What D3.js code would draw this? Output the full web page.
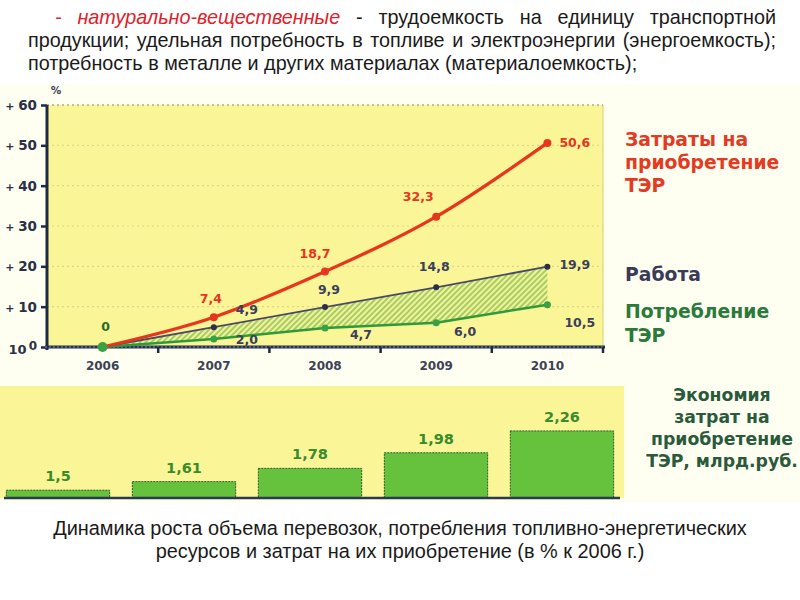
<!DOCTYPE html>
<html><head><meta charset="utf-8">
<script src="https://cdn.jsdelivr.net/npm/d3@7"></script>
<style>body{margin:0;background:#fff} svg{display:block}</style>
</head><body><svg id="c" width="800" height="600"></svg>
<script>
// ---- data ----
const years = ["2006", "2007", "2008", "2009", "2010"];
const costs = [0, 7.4, 18.7, 32.3, 50.6];          // Затраты на приобретение ТЭР, %
const work = [0, 4.9, 9.9, 14.8, 19.9];            // Работа, %
const consumption = [0, 2.0, 4.7, 6.0, 10.5];      // Потребление ТЭР, %
const savings = [1.5, 1.61, 1.78, 1.98, 2.26];     // Экономия, млрд.руб.
const yTicks = [0, 10, 20, 30, 40, 50, 60];
const costLabels = ["", "7,4", "18,7", "32,3", "50,6"];
const workLabels = ["", "4,9", "9,9", "14,8", "19,9"];
const consLabels = ["0", "2,0", "4,7", "6,0", "10,5"];
const savingsLabels = ["1,5", "1,61", "1,78", "1,98", "2,26"];

// label offsets (layout only)
const costOff = [[0,0],[-3,-14],[-10,-14],[-18,-16],[12,4]];
const workOff = [[0,0],[33,-13],[4,-13],[-2,-16],[12,2]];
const consOff = [[3,-16],[33,5],[36,11],[29,13],[17,22]];

const svg = d3.select("#c");
const F = "'DejaVu Sans', Verdana, sans-serif";
const T = "'Liberation Sans', Arial, sans-serif";

svg.append("rect").attr("width",800).attr("height",600).attr("fill","#ffffff");
svg.append("rect").attr("x",0).attr("y",84).attr("width",800).attr("height",419).attr("fill","#fffff1");

// ---- top text (justified) ----
function justifyLine(segs, x0, x1, y, justify) {
  const g = svg.append("g");
  const nodes = segs.map(s => g.append("text").attr("y", y).attr("font-family", T).attr("font-size", 19.8)
      .attr("fill", s.red ? "#e0202a" : "#1a1a1a").attr("font-style", s.red ? "italic" : "normal").text(s.t));
  const widths = nodes.map(n => n.node().getComputedTextLength());
  const sum = d3.sum(widths);
  const space = 5.5;
  const gap = justify ? (x1 - x0 - sum) / (segs.length - 1) : space;
  let x = x0;
  nodes.forEach((n, i) => { n.attr("x", x); x += widths[i] + gap; });
}
const l1 = [{t:"-",red:1},{t:"натурально-вещественные",red:1},{t:"-"}].concat("трудоемкость на единицу транспортной".split(" ").map(t=>({t})));
const l2 = "продукции; удельная потребность в топливе и электроэнергии (энергоемкость);".split(" ").map(t=>({t}));
const l3 = "потребность в металле и других материалах (материалоемкость);".split(" ").map(t=>({t}));
justifyLine(l1, 55, 776, 24, true);
justifyLine(l2, 28, 776, 47, true);
justifyLine(l3, 28, 776, 70, false);

// ---- line chart ----
const x = d3.scaleBand().domain(years).range([47, 603]);
const cx = d => x(d) + x.bandwidth() / 2;
const y = d3.scaleLinear().domain([0, 60]).range([347, 105]);

svg.append("rect").attr("x", 47).attr("y", y(60)).attr("width", 556).attr("height", y(0) - y(60)).attr("fill", "#faf596");
svg.append("line").attr("x1",603).attr("x2",603).attr("y1",y(60)).attr("y2",y(0)).attr("stroke","#d6cf72").attr("stroke-width",1);

// grid
svg.append("g").selectAll("line").data(yTicks.filter(d => d > 0)).join("line")
  .attr("x1", 47).attr("x2", 603).attr("y1", d => y(d)).attr("y2", d => y(d))
  .attr("stroke", d => d === 60 ? "#b5ad80" : "#ddd58a").attr("stroke-width", d => d === 60 ? 1.5 : 1.2)
  .attr("stroke-dasharray", "2,3");

// hatch pattern
const defs = svg.append("defs");
const pat = defs.append("pattern").attr("id", "hatch").attr("patternUnits", "userSpaceOnUse")
  .attr("width", 4).attr("height", 4).attr("patternTransform", "rotate(45)");
pat.append("rect").attr("width", 4).attr("height", 4).attr("fill", "#eef3a0");
pat.append("line").attr("x1", 1).attr("x2", 1).attr("y1", 0).attr("y2", 4).attr("stroke", "#86b83c").attr("stroke-width", 1.3);

const area = d3.area().x((d, i) => cx(years[i])).y0((d, i) => y(consumption[i])).y1(d => y(d));
svg.append("path").datum(work).attr("d", area).attr("fill", "url(#hatch)");

// axes
const yAxis = svg.append("g").attr("transform", "translate(47,0)")
  .call(d3.axisLeft(y).tickValues(yTicks).tickSize(6).tickFormat(() => ""));
yAxis.select(".domain").attr("stroke", "#1e2a44").attr("stroke-width", 3).attr("d", `M0,${y(60)}V${y(0)+3}`);
yAxis.selectAll(".tick line").attr("stroke", "#1e2a44").attr("stroke-width", 2.5);

const yl = svg.append("g").selectAll("text").data(yTicks).join("text")
  .attr("x", 37).attr("y", d => y(d) + 5).attr("text-anchor", "end")
  .attr("font-family", F).attr("font-weight", "bold").attr("fill", "#2a3048");
yl.each(function(d) {
  const t = d3.select(this);
  if (d === 0) {
    t.append("tspan").attr("font-size", 13).attr("dy", 2).text("10");
    t.append("tspan").attr("font-size", 12).attr("dy", -4).attr("dx", 2).text("0");
  } else {
    t.append("tspan").attr("font-size", 11).text("+ ");
    t.append("tspan").attr("font-size", 13.5).text(d3.format("d")(d));
  }
});
svg.append("text").attr("x", 56).attr("y", 94).attr("text-anchor", "middle").attr("font-family", F)
  .attr("font-weight", "bold").attr("font-size", 10.5).attr("fill", "#3a4058").text("%");

const xAxis = svg.append("g").attr("transform", `translate(0,${y(0)})`)
  .call(d3.axisBottom(x).tickSize(0).tickPadding(14));
xAxis.select(".domain").attr("stroke", "#24304a").attr("stroke-width", 3).attr("d", "M45,0H605");
xAxis.selectAll(".tick text").attr("font-family", F).attr("font-weight", "bold").attr("font-size", 12).attr("fill", "#3c4256");
svg.append("line").attr("x1",45).attr("x2",605).attr("y1",y(0)).attr("y2",y(0)).attr("stroke","#8090a8").attr("stroke-width",1).attr("stroke-dasharray","2,2");
svg.append("g").selectAll("line").data(years).join("line")
  .attr("x1", d => x(d) + x.bandwidth()).attr("x2", d => x(d) + x.bandwidth())
  .attr("y1", y(0)).attr("y2", y(0) + 6).attr("stroke", "#1e2a44").attr("stroke-width", 2.5);

// lines
const line = d3.line().x((d, i) => cx(years[i])).y(d => y(d));
const curved = d3.line().x((d, i) => cx(years[i])).y(d => y(d)).curve(d3.curveMonotoneX);
svg.append("path").datum(consumption).attr("d", line).attr("fill", "none").attr("stroke", "#2f9a3a").attr("stroke-width", 2.5);
svg.append("path").datum(work).attr("d", line).attr("fill", "none").attr("stroke", "#4a4a68").attr("stroke-width", 1.8);
svg.append("path").datum(costs).attr("d", curved).attr("fill", "none").attr("stroke", "#e8351e").attr("stroke-width", 3.2);

svg.append("g").selectAll("circle").data(consumption).join("circle")
  .attr("cx", (d, i) => cx(years[i])).attr("cy", d => y(d)).attr("r", (d,i) => i === 0 ? 5 : 3.5).attr("fill", "#3aa044");
svg.append("g").selectAll("circle").data(work.slice(1)).join("circle")
  .attr("cx", (d, i) => cx(years[i + 1])).attr("cy", d => y(d)).attr("r", 3).attr("fill", "#2e2e48");
svg.append("g").selectAll("circle").data(costs.slice(1)).join("circle")
  .attr("cx", (d, i) => cx(years[i + 1])).attr("cy", d => y(d)).attr("r", 4).attr("fill", "#e8351e");

function labels(vals, labs, off, color) {
  svg.append("g").selectAll("text").data(vals).join("text")
    .attr("x", (d, i) => cx(years[i]) + off[i][0]).attr("y", (d, i) => y(d) + off[i][1])
    .attr("text-anchor", (d, i) => (i === 4 ? "start" : "middle"))
    .attr("font-family", F).attr("font-weight", "bold").attr("font-size", 12.5)
    .attr("fill", (d, i) => typeof color === "function" ? color(i) : color)
    .text((d, i) => labs[i]);
}
labels(costs, costLabels, costOff, "#e8351e");
labels(work, workLabels, workOff, "#3a3f5c");
labels(consumption, consLabels, consOff, i => i === 0 ? "#2a6a2a" : "#3a3f5c");

// legend
function block(lines, x0, y0, dy, color, size, anchor, fam, weight) {
  const t = svg.append("text").attr("font-family", fam || F).attr("font-weight", weight || "bold").attr("font-size", size)
    .attr("fill", color).attr("text-anchor", anchor || "start");
  lines.forEach((s, i) => t.append("tspan").attr("x", x0).attr("y", y0 + i * dy).text(s));
}
block(["Затраты на", "приобретение", "ТЭР"], 625, 146, 23, "#e33a24", 18.8);
block(["Работа"], 625, 281, 0, "#3a3a5a", 18.8);
block(["Потребление", "ТЭР"], 625, 318, 24, "#2a7a3a", 18.8);

// ---- bar chart ----
svg.append("rect").attr("x", 0).attr("y", 386).attr("width", 624).attr("height", 112).attr("fill", "#faf596");
const xb = d3.scaleBand().domain(years).range([-5, 625]).paddingInner(0.18).paddingOuter(0.09);
const yb = d3.scaleLinear().domain([1.4, 2.4]).range([498, 420]);
svg.append("g").selectAll("rect").data(savings).join("rect")
  .attr("x", (d, i) => xb(years[i])).attr("y", d => yb(d))
  .attr("width", xb.bandwidth()).attr("height", d => yb(1.4) - yb(d))
  .attr("fill", "#66c23c").attr("stroke", "#2e5a30").attr("stroke-width", 1).attr("stroke-dasharray", "2,1");
svg.append("line").attr("x1", 4).attr("x2", 620).attr("y1", 498).attr("y2", 498).attr("stroke", "#2a3a50").attr("stroke-width", 2.5);
svg.append("g").selectAll("text").data(savings).join("text")
  .attr("x", (d, i) => xb(years[i]) + xb.bandwidth() / 2).attr("y", d => yb(d) - 9)
  .attr("text-anchor", "middle").attr("font-family", F).attr("font-weight", "bold").attr("font-size", 14.5)
  .attr("fill", "#3a8a2e").text((d, i) => savingsLabels[i]);
block(["Экономия", "затрат на", "приобретение", "ТЭР, млрд.руб."], 722, 401, 22, "#2a5a3c", 17.3, "middle");

// ---- caption ----
block(["Динамика роста объема перевозок, потребления топливно-энергетических", "ресурсов и затрат на их приобретение (в % к 2006 г.)"], 400, 535, 23, "#1a1a1a", 19.9, "middle", T, "normal");
</script></body></html>
